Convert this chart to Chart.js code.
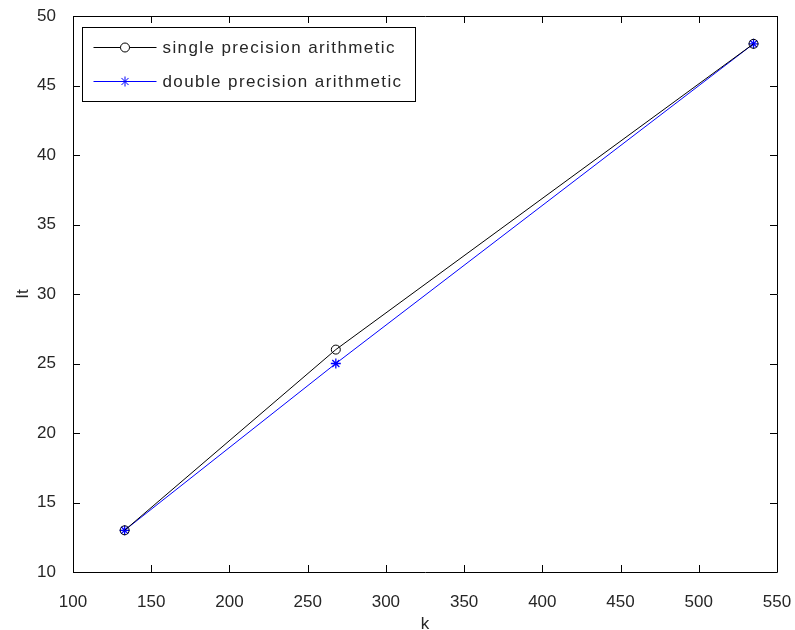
<!DOCTYPE html>
<html>
<head>
<meta charset="utf-8">
<script src="https://cdn.jsdelivr.net/npm/chart.js@4/dist/chart.umd.min.js"></script>
<style>
  html, body { margin: 0; padding: 0; background: #fff; }
  #wrap { width: 795px; height: 630px; }
</style>
</head>
<body>
<div id="wrap"><canvas id="c" width="795" height="630"></canvas></div>
<script>
// values
const kValues = [133, 268, 535];
const singleIt = [13, 26, 48];
const doubleIt = [13, 25, 48];
const xTicks = [100, 150, 200, 250, 300, 350, 400, 450, 500, 550];
const yTicks = [10, 15, 20, 25, 30, 35, 40, 45, 50];
const seriesNames = ['single precision arithmetic', 'double precision arithmetic'];

const FONT = '"Liberation Sans", Arial, sans-serif';
const TXT = '#262626';

// MATLAB style: box round the axes, ticks pointing inward on all four sides, legend inside
const matlabAxes = {
    id: 'matlabAxes',
    afterDraw(chart) {
        const ctx = chart.ctx;
        const a = chart.chartArea;
        const xs = chart.scales.x, ys = chart.scales.y;
        const tl = 7;
        ctx.save();
        ctx.strokeStyle = '#000';
        ctx.lineWidth = 1;
        ctx.beginPath();
        ctx.rect(Math.round(a.left) + 0.5, Math.round(a.top) + 0.5,
                 Math.round(a.right - a.left), Math.round(a.bottom - a.top));
        xs.ticks.forEach(t => {
            const px = Math.round(xs.getPixelForValue(t.value)) + 0.5;
            ctx.moveTo(px, a.bottom); ctx.lineTo(px, a.bottom - tl);
            ctx.moveTo(px, a.top); ctx.lineTo(px, a.top + tl);
        });
        ys.ticks.forEach(t => {
            const py = Math.round(ys.getPixelForValue(t.value)) + 0.5;
            ctx.moveTo(a.left, py); ctx.lineTo(a.left + tl, py);
            ctx.moveTo(a.right, py); ctx.lineTo(a.right - tl, py);
        });
        ctx.stroke();

        // legend box
        const lx = Math.round(a.left) + 9.5, ly = Math.round(a.top) + 11.5, lw = 333, lh = 74;
        ctx.fillStyle = '#fff';
        ctx.fillRect(lx, ly, lw, lh);
        ctx.strokeStyle = '#000';
        ctx.strokeRect(lx, ly, lw, lh);
        chart.data.datasets.forEach((ds, i) => {
            const rowY = ly + 20 + i * 34;
            ctx.strokeStyle = ds.borderColor;
            ctx.beginPath();
            ctx.moveTo(lx + 11, rowY); ctx.lineTo(lx + 74, rowY);
            ctx.stroke();
            Chart.helpers.drawPoint(ctx, {
                pointStyle: ds.pointStyle, radius: ds.pointRadius, borderWidth: ds.pointBorderWidth
            }, lx + 42.5, rowY);
            ctx.fillStyle = TXT;
            ctx.font = '17px ' + FONT;
            ctx.letterSpacing = '1.4px';
            ctx.textBaseline = 'middle';
            ctx.textAlign = 'left';
            ctx.fillText(ds.label, lx + 80, rowY + 1);
        });
        ctx.restore();
    }
};

new Chart(document.getElementById('c'), {
    type: 'line',
    data: {
        datasets: [
            {
                label: seriesNames[0],
                data: kValues.map((k, i) => ({ x: k, y: singleIt[i] })),
                borderColor: '#000', backgroundColor: 'rgba(0,0,0,0)',
                borderWidth: 1, pointStyle: 'circle', pointRadius: 4.5,
                pointBorderColor: '#000', pointBackgroundColor: 'rgba(0,0,0,0)', pointBorderWidth: 1
            },
            {
                label: seriesNames[1],
                data: kValues.map((k, i) => ({ x: k, y: doubleIt[i] })),
                borderColor: '#0000ff', backgroundColor: '#0000ff',
                borderWidth: 1, pointStyle: 'star', pointRadius: 5,
                pointBorderColor: '#0000ff', pointBorderWidth: 1.3
            }
        ]
    },
    options: {
        responsive: false,
        animation: false,
        layout: { padding: { top: 16, right: 18, left: 0, bottom: 0 } },
        plugins: { legend: { display: false }, tooltip: { enabled: false } },
        scales: {
            x: {
                type: 'linear', min: 100, max: 550,
                afterBuildTicks: s => { s.ticks = xTicks.map(v => ({ value: v })); },
                grid: { display: false },
                border: { display: false },
                ticks: { color: TXT, font: { family: FONT, size: 17 }, padding: 12, maxRotation: 0 },
                title: { display: true, text: 'k', color: TXT, font: { family: FONT, size: 17 }, padding: { top: 7, bottom: -5 } },
                afterFit: s => { s.height = 58; s.paddingRight = 0; s.paddingLeft = 0; }
            },
            y: {
                type: 'linear', min: 10, max: 50,
                afterBuildTicks: s => { s.ticks = yTicks.map(v => ({ value: v })); },
                grid: { display: false },
                border: { display: false },
                ticks: { color: TXT, font: { family: FONT, size: 17 }, padding: 9 },
                title: { display: true, text: 'It', color: TXT, font: { family: FONT, size: 17 }, padding: { top: 13, bottom: 0 } },
                afterFit: s => { s.width = 73; s.paddingTop = 0; s.paddingBottom = 0; }
            }
        }
    },
    plugins: [matlabAxes]
});
</script>
</body>
</html>
